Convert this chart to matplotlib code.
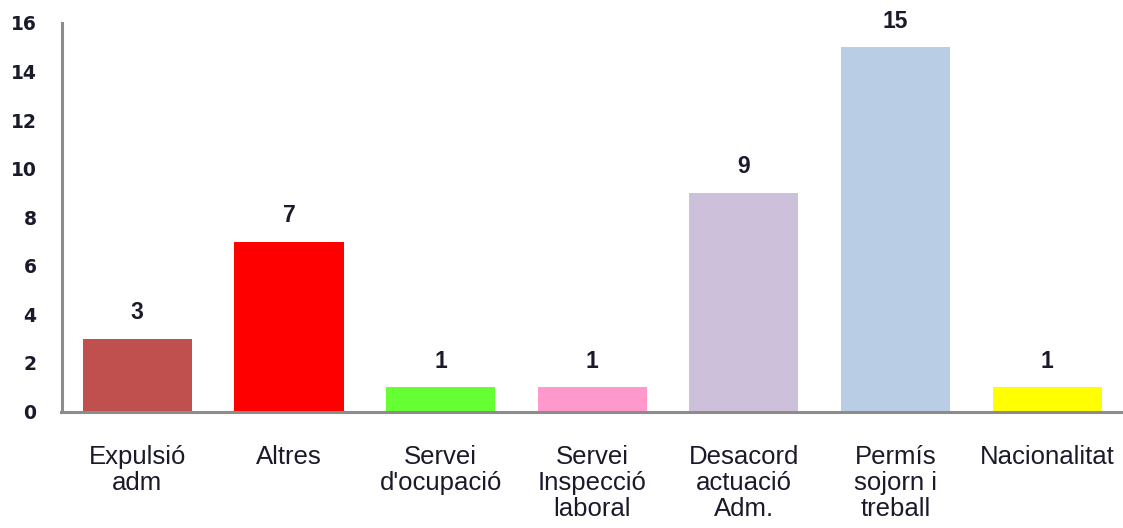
import matplotlib
matplotlib.use("Agg")
import matplotlib.pyplot as plt

categories = ["Expulsió\nadm", "Altres", "Servei\nd'ocupació", "Servei\nInspecció\nlaboral",
              "Desacord\nactuació\nAdm.", "Permís\nsojorn i\ntreball", "Nacionalitat"]
values = [3, 7, 1, 1, 9, 15, 1]
colors = ["#C0504D", "#FF0000", "#66FF33", "#FF99CC", "#CCC0DA", "#B9CDE5", "#FFFF00"]
yticks = [0, 2, 4, 6, 8, 10, 12, 14, 16]

W, H = 1123, 528
fig = plt.figure(figsize=(W / 100, H / 100), dpi=100)
ax = fig.add_axes([61.5 / W, 1 - 411.5 / H, 1 - 61.5 / W, (411.5 - 23) / H])

x = list(range(len(categories)))
bars = ax.bar(x, values, width=0.72, color=colors, zorder=2)

ax.set_xlim(-0.5, 6.5)
ax.set_ylim(0, 16)
ax.set_yticks(yticks)
ax.set_yticklabels([str(t) for t in yticks], fontfamily="DejaVu Sans",
                   fontweight="bold", fontsize=13.5, color="#1a1a2a")
ax.tick_params(axis="y", length=0, pad=18)
ax.set_xticks(x)
ax.set_xticklabels(categories, fontfamily="Liberation Sans", fontsize=18.5,
                   color="#1a1a2a", linespacing=1.12)
ax.tick_params(axis="x", length=0, pad=24)

for s in ["top", "right"]:
    ax.spines[s].set_visible(False)
for s in ["left", "bottom"]:
    ax.spines[s].set_color("#8c8c8c")
    ax.spines[s].set_linewidth(2.2)

for b, v in zip(bars, values):
    ax.annotate(str(v), (b.get_x() + b.get_width() / 2, v), xytext=(0, 10.5),
                textcoords="offset points", ha="center", va="bottom",
                fontfamily="Liberation Sans", fontweight="bold", fontsize=16.5,
                color="#1a1a2a")

fig.savefig("out.png", dpi=100)
